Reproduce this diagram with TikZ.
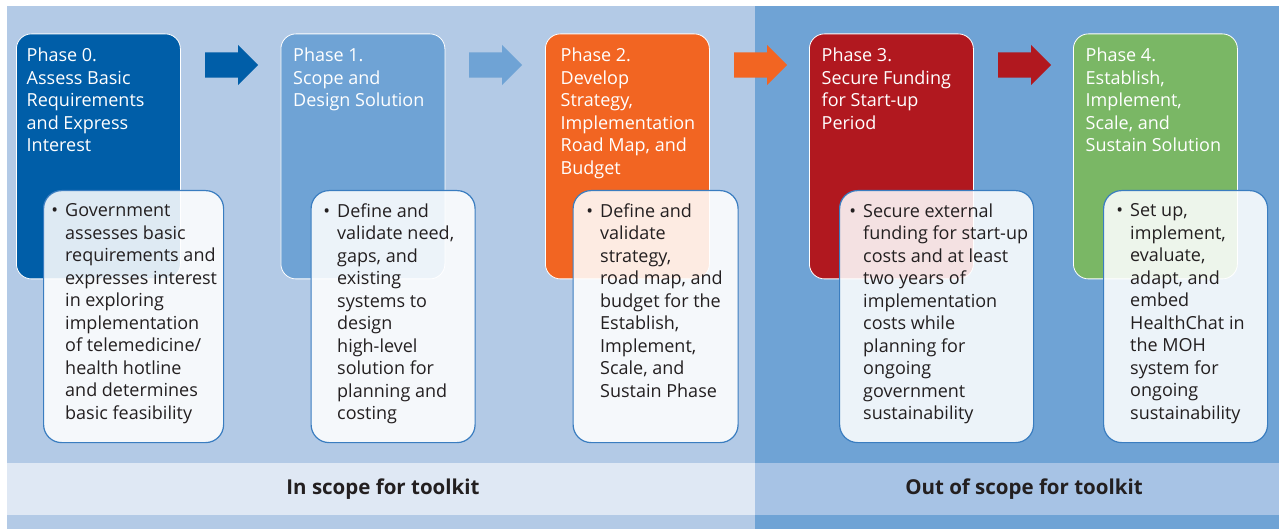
\documentclass[tikz,border=0pt]{standalone}
\usepackage{fontspec}
\setmainfont{Open Sans}
\usepackage{tikz}
\usetikzlibrary{shapes.arrows}
\definecolor{inbg}{RGB}{179,202,230}
\definecolor{outbg}{RGB}{111,163,213}
\definecolor{inband}{RGB}{223,232,244}
\definecolor{outband}{RGB}{167,195,229}
\definecolor{phzero}{RGB}{0,94,168}
\definecolor{phone}{RGB}{111,163,213}
\definecolor{phtwo}{RGB}{242,101,34}
\definecolor{phthree}{RGB}{177,24,31}
\definecolor{phfour}{RGB}{122,183,101}
\definecolor{descline}{RGB}{58,125,192}
\definecolor{txtdark}{RGB}{35,31,32}
\newcommand{\itm}{\llap{\textbullet\hspace{7pt}}}
\tikzset{
  phasebox/.style={draw=white,line width=0.8pt,rounded corners=15pt,minimum width=164pt,minimum height=245pt,anchor=north west,inner sep=0pt},
  phasetitle/.style={text=white,align=left,anchor=north west,inner sep=0pt,font=\fontsize{18}{22.5}\selectfont},
  descbox/.style={draw=descline,line width=1.2pt,fill=white,fill opacity=0.87,rounded corners=18pt,minimum height=252pt,anchor=north west,inner sep=0pt},
  desctext/.style={text=txtdark,align=left,anchor=north west,inner sep=0pt,font=\fontsize{18}{22.5}\selectfont},
  flowarrow/.style={single arrow,single arrow head extend=7.5pt,minimum height=53pt,inner xsep=0pt,inner ysep=12.5pt,anchor=tail},
  scopelabel/.style={text=txtdark,inner sep=0pt,font=\fontsize{20.5}{24}\selectfont\bfseries}
}

\begin{document}
\begin{tikzpicture}[line cap=round,line join=round,x=1pt,y=-1pt]
            \useasboundingbox (0,0) rectangle (1279,529);
            \fill [color=inbg] (7,6) rectangle (755,529);
            \fill [color=outbg] (755,6) rectangle (1279,529);
            \fill [color=inband] (7,463) rectangle (755,515);
            \fill [color=outband] (755,463) rectangle (1279,515);
            \node [phasebox,fill=phzero] (p0) at (16,33.5) {};
            \node [phasebox,fill=phone] (p1) at (280.5,33.5) {};
            \node [phasebox,fill=phtwo] (p2) at (545,33.5) {};
            \node [phasebox,fill=phthree] (p3) at (809,33.5) {};
            \node [phasebox,fill=phfour] (p4) at (1073,33.5) {};
            \node [phasetitle] (t0) at (26.5,48) {Phase 0.\\Assess Basic\\Requirements\\and Express\\Interest};
            \node [phasetitle] (t1) at (293,48) {Phase 1.\\Scope and\\Design Solution};
            \node [phasetitle] (t2) at (560.5,48) {Phase 2.\\Develop\\Strategy,\\Implementation\\Road Map, and\\Budget};
            \node [phasetitle] (t3) at (821.5,48) {Phase 3.\\Secure Funding\\for Start-up\\Period};
            \node [phasetitle] (t4) at (1085.5,48) {Phase 4.\\Establish,\\Implement,\\Scale, and\\Sustain Solution};
            \node [flowarrow,fill=phzero] (a01) at (205,65) {};
            \node [flowarrow,fill=phone] (a12) at (469,65) {};
            \node [flowarrow,fill=phtwo] (a23) at (734,65) {};
            \node [flowarrow,fill=phthree] (a34) at (998,65) {};
            \node [descbox,minimum width=180pt] (d0) at (43,190) {};
            \node [descbox,minimum width=164pt] (d1) at (310.5,190) {};
            \node [descbox,minimum width=165pt] (d2) at (572.5,190) {};
            \node [descbox,minimum width=194pt] (d3) at (839,190) {};
            \node [descbox,minimum width=164pt] (d4) at (1103,190) {};
            \node [desctext] (s0) at (65,203.5) {\itm Government\\assesses basic\\requirements and\\expresses interest\\in exploring\\implementation\\of telemedicine/\\health hotline\\and determines\\basic feasibility};
            \node [desctext] (s1) at (337,203.5) {\itm Define and\\validate need,\\gaps, and\\existing\\systems to\\design\\high-level\\solution for\\planning and\\costing};
            \node [desctext] (s2) at (600,203.5) {\itm Define and\\validate\\strategy,\\road map, and\\budget for the\\Establish,\\Implement,\\Scale, and\\Sustain Phase};
            \node [desctext] (s3) at (863,203.5) {\itm Secure external\\funding for start-up\\costs and at least\\two years of\\implementation\\costs while\\planning for\\ongoing\\government\\sustainability};
            \node [desctext] (s4) at (1130,203.5) {\itm Set up,\\implement,\\evaluate,\\adapt, and\\embed\\HealthChat in\\the MOH\\system for\\ongoing\\sustainability};
            \node [scopelabel] (inscope) at (383,489) {In scope for toolkit};
            \node [scopelabel] (outscope) at (1024,489) {Out of scope for toolkit};
\end{tikzpicture}
\end{document}
